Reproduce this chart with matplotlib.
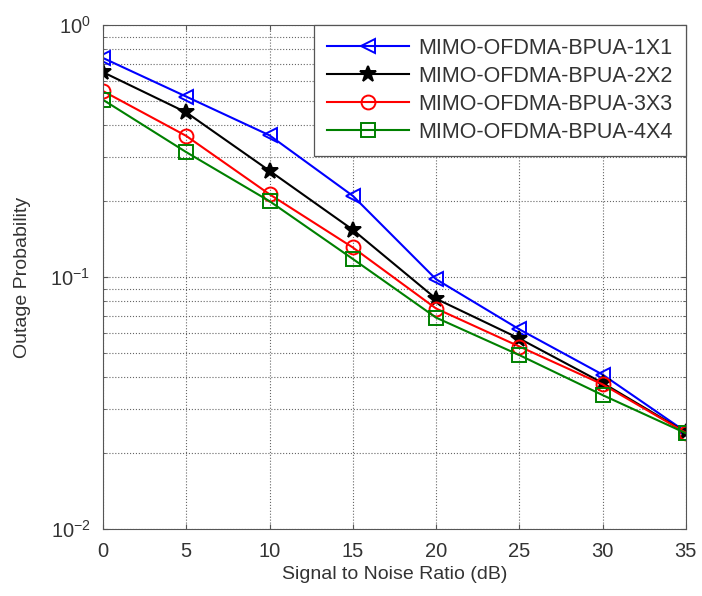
import numpy as np
import matplotlib
matplotlib.use("Agg")
import matplotlib.pyplot as plt
from matplotlib.ticker import LogLocator, NullFormatter

plt.rcParams["font.family"] = ["Liberation Sans", "DejaVu Sans"]
plt.rcParams["mathtext.fontset"] = "custom"
plt.rcParams["mathtext.rm"] = "Liberation Sans"

# datos
snr = [0, 5, 10, 15, 20, 25, 30, 35]
p_1x1 = [0.74, 0.52, 0.365, 0.21, 0.098, 0.062, 0.041, 0.0243]
p_2x2 = [0.65, 0.45, 0.264, 0.154, 0.082, 0.057, 0.038, 0.0242]
p_3x3 = [0.547, 0.363, 0.213, 0.131, 0.075, 0.053, 0.0375, 0.0241]
p_4x4 = [0.505, 0.313, 0.20, 0.118, 0.069, 0.049, 0.034, 0.0240]
labels = ["MIMO-OFDMA-BPUA-1X1", "MIMO-OFDMA-BPUA-2X2",
          "MIMO-OFDMA-BPUA-3X3", "MIMO-OFDMA-BPUA-4X4"]

fig = plt.figure(figsize=(7.02, 5.96), dpi=100)
ax = fig.add_axes([0.1467, 0.1124, 0.8303, 0.8456])

estilos = [("#0000ff", "<"), ("black", "*"), ("#ff0000", "o"), ("#008000", "s")]
for serie, lab, (c, m) in zip([p_1x1, p_2x2, p_3x3, p_4x4], labels, estilos):
    ms = 12 if m == "*" else 10
    mfc = c if m == "*" else "none"
    ax.plot(snr, serie, color=c, lw=1.5, marker=m, ms=ms, mfc=mfc,
            mec=c, mew=1.4, label=lab)

ax.set_yscale("log")
ax.set_xlim(0, 35)
ax.set_ylim(1e-2, 1)
ax.set_xticks(snr)
ax.yaxis.set_major_locator(LogLocator(base=10, numticks=5))
ax.yaxis.set_minor_locator(LogLocator(base=10, subs=np.arange(2, 10), numticks=20))
ax.yaxis.set_minor_formatter(NullFormatter())
ax.grid(True, which="both", ls=":", color="#666666", lw=0.8)
ax.tick_params(direction="in", which="both", labelsize=14.5, top=True, right=True,
               color="#555555", labelcolor="#333333")
ax.tick_params(axis="x", pad=9)
ax.tick_params(axis="y", pad=9)
for s in ax.spines.values():
    s.set_color("#555555")

ax.set_xlabel("Signal to Noise Ratio (dB)", fontsize=14, color="#333333", labelpad=4)
ax.set_ylabel("Outage Probability", fontsize=14, color="#333333", labelpad=14)

leg = ax.legend(loc="upper right", fontsize=15.5, handlelength=3.8,
                handletextpad=0.45, fancybox=False, framealpha=1,
                edgecolor="#555555", borderaxespad=0, labelspacing=0.32,
                borderpad=0.6)
leg.get_frame().set_linewidth(0.9)
for t in leg.get_texts():
    t.set_color("#333333")

fig.savefig("out.png", dpi=100, facecolor="white")
